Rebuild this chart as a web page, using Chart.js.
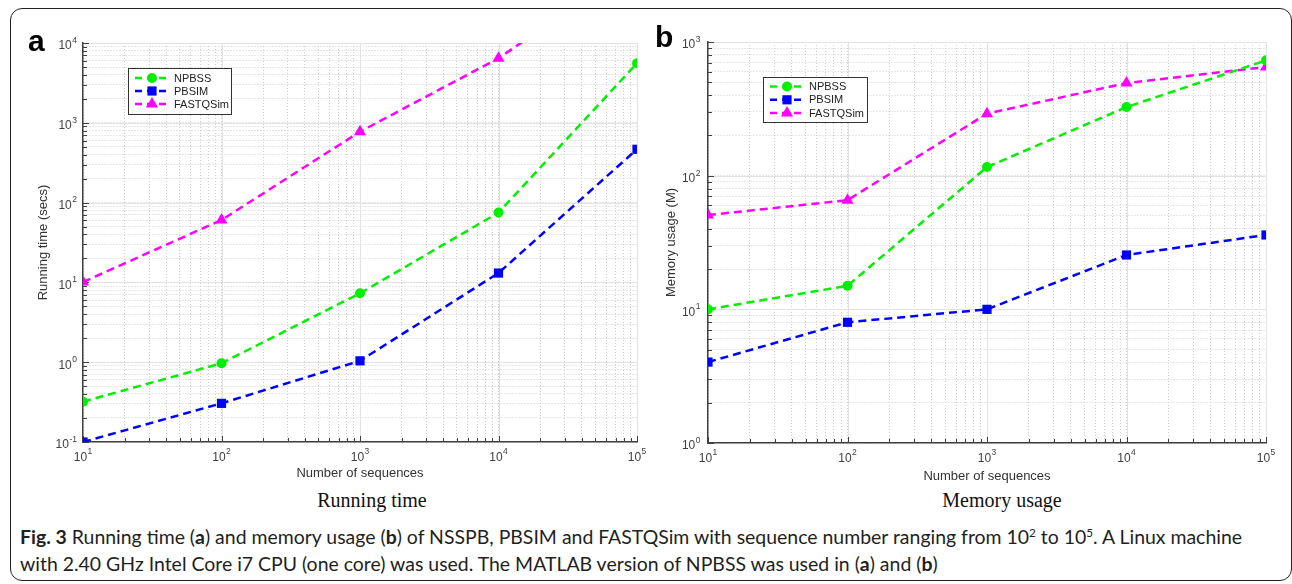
<!DOCTYPE html>
<html>
<head>
<meta charset="utf-8">
<script src="https://cdn.jsdelivr.net/npm/chart.js@4/dist/chart.umd.min.js"></script>
<style>
  body { margin: 0; width: 1292px; height: 584px; background: #fff; position: relative; overflow: hidden; font-family: "Liberation Sans", Arial, sans-serif; }
  #frame { position: absolute; left: 10px; top: 8px; width: 1282px; height: 573px; border: 1.5px solid #222; border-radius: 12px; box-sizing: border-box; }
  canvas { position: absolute; top: 0; }
  #runCanvas { left: 0; }
  #memCanvas { left: 640px; }
  .panel { position: absolute; font-weight: bold; font-size: 30px; line-height: 1; color: #000; }
  .sub { position: absolute; font-family: "Liberation Serif", "Times New Roman", serif; font-size: 20px; transform: translate(-50%, -50%); white-space: nowrap; color: #111; }
  .cap { position: absolute; left: 20px; font-family: Lato, "Open Sans", sans-serif; font-size: 20px; white-space: nowrap; color: #231f20; line-height: 1; }
  .cap sup { font-size: 0.6em; line-height: 0; }
</style>
</head>
<body>
<div id="frame"></div>
<canvas id="runCanvas" width="650" height="482"></canvas>
<canvas id="memCanvas" width="640" height="484"></canvas>
<div class="panel" style="left:28px;top:26px">a</div>
<div class="panel" style="left:655px;top:22px">b</div>
<div class="sub" style="left:372px;top:500px">Running time</div>
<div class="sub" style="left:1002px;top:500px">Memory usage</div>
<div class="cap" id="cap1" style="top:527px"><b>Fig. 3</b> Running time (<b>a</b>) and memory usage (<b>b</b>) of NSSPB, PBSIM and FASTQSim with sequence number ranging from 10<sup>2</sup> to 10<sup>5</sup>. A Linux machine</div>
<div class="cap" id="cap2" style="top:554px">with 2.40 GHz Intel Core i7 CPU (one core) was used. The MATLAB version of NPBSS was used in (<b>a</b>) and (<b>b</b>)</div>
<script>
// data
const sequences = [10, 100, 1000, 10000, 100000];
const seriesNames = ["NPBSS", "PBSIM", "FASTQSim"];

const npbssTime = [0.32, 0.97, 7.3, 75, 5570];
const pbsimTime = [0.1, 0.305, 1.04, 13.1, 466];
const fastqsimTime = [10.1, 60.5, 774, 6430, 100000];

const npbssMem = [10.0, 15.0, 116, 326, 729];
const pbsimMem = [4.03, 8.0, 10.0, 25.5, 36];
const fastqsimMem = [50.7, 65.6, 291, 493, 650];

// decade ticks and their exponents (labels are 10^exp)
const xDecades = [10, 100, 1000, 10000, 100000];
const xExponents = ["1", "2", "3", "4", "5"];
const runDecades = [0.1, 1, 10, 100, 1000, 10000];
const runExponents = ["-1", "0", "1", "2", "3", "4"];
const memDecades = [1, 10, 100, 1000];
const memExponents = ["0", "1", "2", "3"];

const colors = ["#00f000", "#0000ff", "#ff00ff"];
const markers = ["circle", "rect", "triangle"];
const markerSizes = [5, 6.5, 7];

const fontFamily = "'Liberation Sans', Arial, sans-serif";

function buildTicks(decades) {
  var ticks = [];
  decades.forEach((d, i) => {
    ticks.push({ value: d, major: true });
    if (i < decades.length - 1) {
      for (let m = 2; m <= 9; m++) ticks.push({ value: d * m, major: false });
    }
  });
  return ticks;
}

function makeDatasets(a, b, c) {
  return [a, b, c].map((vals, i) => ({
    label: seriesNames[i],
    data: sequences.map((x, j) => ({ x: x, y: vals[j] })),
    borderColor: colors[i],
    backgroundColor: colors[i],
    borderWidth: 2.5,
    borderDash: [8, 5],
    pointStyle: markers[i],
    pointRadius: markerSizes[i],
    pointBorderWidth: 0,
    tension: 0,
  }));
}

function drawMarker(ctx, style, x, y, r) {
  ctx.beginPath();
  if (style === "circle") {
    ctx.arc(x, y, r, 0, Math.PI * 2);
  } else if (style === "rect") {
    const s = r * Math.SQRT1_2;
    ctx.rect(x - s, y - s, 2 * s, 2 * s);
  } else {
    ctx.moveTo(x, y - r);
    ctx.lineTo(x + r * 0.87, y + r * 0.5);
    ctx.lineTo(x - r * 0.87, y + r * 0.5);
    ctx.closePath();
  }
  ctx.fill();
}

// draws "10" with a raised exponent; align: 'center' or 'right'
function drawPower(ctx, exp, x, y, align) {
  ctx.font = "12px " + fontFamily;
  const wBase = ctx.measureText("10").width;
  ctx.font = "8.5px " + fontFamily;
  const wExp = ctx.measureText(exp).width;
  const total = wBase + wExp + 0.5;
  const left = align === "right" ? x - total : x - total / 2;
  ctx.textBaseline = "middle";
  ctx.textAlign = "left";
  ctx.font = "12px " + fontFamily;
  ctx.fillText("10", left, y);
  ctx.font = "8.5px " + fontFamily;
  ctx.fillText(exp, left + wBase + 0.5, y - 5.5);
}

// MATLAB-ish axes: solid major grid, inward tick marks, power labels, legend box
const matlabPlugin = {
  id: "matlab",
  beforeDatasetsDraw(chart) {
    const { ctx, chartArea: a } = chart;
    const xs = chart.scales.x, ys = chart.scales.y;
    ctx.save();
    ctx.setLineDash([]);
    ctx.lineWidth = 1;
    ctx.strokeStyle = "#e2e2e2";
    xs.ticks.forEach((t, i) => {
      if (!t.major || i === 0) return;
      const px = Math.round(xs.getPixelForValue(t.value)) + 0.5;
      ctx.beginPath(); ctx.moveTo(px, a.top); ctx.lineTo(px, a.bottom); ctx.stroke();
    });
    ys.ticks.forEach((t, i) => {
      if (!t.major || i === 0) return;
      const py = Math.round(ys.getPixelForValue(t.value)) + 0.5;
      ctx.beginPath(); ctx.moveTo(a.left, py); ctx.lineTo(a.right, py); ctx.stroke();
    });
    ctx.strokeStyle = "#404040";
    xs.ticks.forEach((t) => {
      const px = Math.round(xs.getPixelForValue(t.value)) + 0.5;
      const len = t.major ? 6 : 4;
      ctx.beginPath(); ctx.moveTo(px, a.bottom); ctx.lineTo(px, a.bottom - len); ctx.stroke();
    });
    ys.ticks.forEach((t) => {
      const py = Math.round(ys.getPixelForValue(t.value)) + 0.5;
      const len = t.major ? 6 : 4;
      ctx.beginPath(); ctx.moveTo(a.left, py); ctx.lineTo(a.left + len, py); ctx.stroke();
    });
    ctx.restore();
  },
  afterDraw(chart, args, opts) {
    const ctx = chart.ctx;
    const xs = chart.scales.x, ys = chart.scales.y;
    const a = chart.chartArea;
    ctx.save();
    ctx.fillStyle = "#404040";
    opts.xDecades.forEach((v, i) => {
      drawPower(ctx, opts.xExp[i], xs.getPixelForValue(v), a.bottom + 15.5, "center");
    });
    opts.yDecades.forEach((v, i) => {
      drawPower(ctx, opts.yExp[i], a.left - opts.yGap, ys.getPixelForValue(v) + 3, "right");
    });
    ctx.restore();

    const b = opts.box;
    if (!b) return;
    ctx.save();
    ctx.fillStyle = "#fff";
    ctx.fillRect(b.x, b.y, b.w, b.h);
    ctx.strokeStyle = "#333";
    ctx.lineWidth = 1;
    ctx.setLineDash([]);
    ctx.strokeRect(b.x + 0.5, b.y + 0.5, b.w, b.h);
    ctx.font = "11px " + fontFamily;
    ctx.textBaseline = "middle";
    chart.data.datasets.forEach((ds, i) => {
      const y = b.y + b.rowTop + i * b.rowGap;
      ctx.strokeStyle = ds.borderColor;
      ctx.fillStyle = ds.borderColor;
      ctx.lineWidth = ds.borderWidth;
      ctx.setLineDash([7, 5]);
      ctx.beginPath(); ctx.moveTo(b.x + 7, y); ctx.lineTo(b.x + 42, y); ctx.stroke();
      ctx.setLineDash([]);
      drawMarker(ctx, ds.pointStyle, b.x + 24, y, ds.pointRadius);
      ctx.fillStyle = "#222";
      ctx.fillText(ds.label, b.x + 46, y + 0.5);
    });
    ctx.restore();
  },
};

function makeChart(id, opts) {
  return new Chart(document.getElementById(id), {
    type: "line",
    data: { datasets: opts.datasets },
    options: {
      responsive: false,
      animation: false,
      layout: { padding: opts.padding },
      plugins: {
        legend: { display: false },
        tooltip: { enabled: false },
        matlab: {
          box: opts.legendBox,
          xDecades: xDecades,
          xExp: xExponents,
          yDecades: opts.yDecades,
          yExp: opts.yExponents,
          yGap: opts.yGap,
        },
      },
      scales: {
        x: {
          type: "logarithmic",
          min: 10,
          max: 100000,
          afterBuildTicks: (axis) => { axis.ticks = buildTicks(xDecades); },
          afterFit: (s) => { s.height = opts.xHeight; },
          ticks: { display: false, autoSkip: false },
          grid: { color: "#cfcfcf", lineWidth: 1, drawTicks: false },
          border: { display: true, color: "#404040", width: 1.5, dash: [1, 2] },
          title: { display: true, text: "Number of sequences", color: "#333", font: { family: fontFamily, size: 13 }, padding: { top: 0, bottom: opts.xTitlePad } },
        },
        y: {
          type: "logarithmic",
          min: opts.yDecades[0],
          max: opts.yDecades[opts.yDecades.length - 1],
          afterBuildTicks: (axis) => { axis.ticks = buildTicks(opts.yDecades); },
          afterFit: (s) => { s.width = opts.yWidth; },
          ticks: { display: false, autoSkip: false },
          grid: { color: "#cfcfcf", lineWidth: 1, drawTicks: false },
          border: { display: true, color: "#404040", width: 1.5, dash: [1, 2] },
          title: { display: true, text: opts.yTitle, color: "#333", font: { family: fontFamily, size: 13 }, padding: { top: opts.yTitlePad, bottom: 0 } },
        },
      },
    },
    plugins: [matlabPlugin],
  });
}

makeChart("runCanvas", {
  datasets: makeDatasets(npbssTime, pbsimTime, fastqsimTime),
  padding: { top: 43, right: 13, left: 0, bottom: 0 },
  xHeight: 40,
  xTitlePad: 1,
  yWidth: 83,
  yTitlePad: 36,
  yGap: 6,
  yDecades: runDecades,
  yExponents: runExponents,
  yTitle: "Running time (secs)",
  legendBox: { x: 128, y: 68, w: 103, h: 46, rowTop: 10, rowGap: 13 },
});

makeChart("memCanvas", {
  datasets: makeDatasets(npbssMem, pbsimMem, fastqsimMem),
  padding: { top: 42, right: 14, left: 0, bottom: 0 },
  xHeight: 41,
  xTitlePad: 0,
  yWidth: 68,
  yTitlePad: 24,
  yGap: 7.5,
  yDecades: memDecades,
  yExponents: memExponents,
  yTitle: "Memory usage (M)",
  legendBox: { x: 123, y: 77, w: 104, h: 45, rowTop: 9.5, rowGap: 13.3 },
});

// fit the caption to the width it takes in the figure
const cap1 = document.getElementById("cap1");
const cap2 = document.getElementById("cap2");
const fs = 20 * 1223 / cap1.getBoundingClientRect().width;
cap1.style.fontSize = fs + "px";
cap2.style.fontSize = fs + "px";
</script>
</body>
</html>
